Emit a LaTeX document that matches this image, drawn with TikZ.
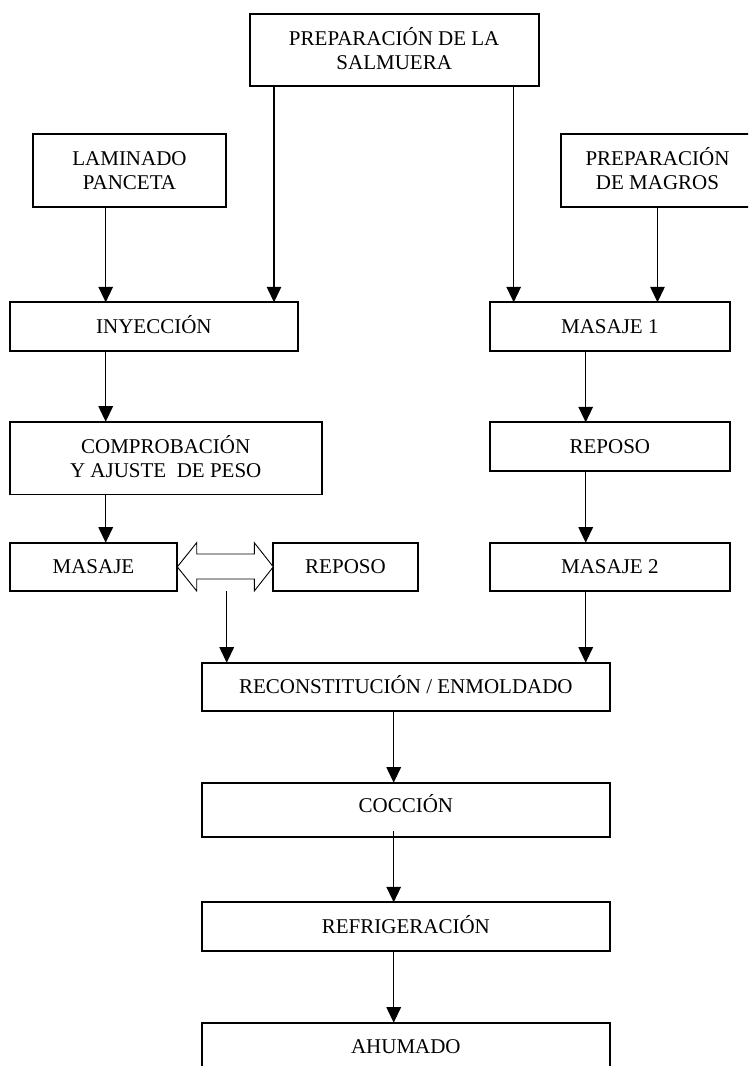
\documentclass[tikz,border=0pt]{standalone}
\usepackage{fontspec}
\setmainfont{Liberation Serif}
\usetikzlibrary{arrows.meta,calc}
\begin{document}
\begin{tikzpicture}[x=1pt,y=-1pt,
  box/.style={draw, line width=1.8pt, inner sep=0pt, outer sep=0pt, align=center,
    font=\fontsize{21}{24}\selectfont, text height=14pt, text depth=0pt},
  boxtwo/.style={box, text height=38pt, text depth=0pt},
  arr/.style={line width=1.3pt, -{Triangle[length=15.5pt,width=14.5pt]}},
  dblarr/.style={draw, line width=0.9pt, fill=white}]
\useasboundingbox (0,0) rectangle (748,1066);
\clip (0,0) rectangle (748,1066);

% boxes
\node[boxtwo, minimum width=289pt, minimum height=72pt] (salm) at (394.2,50.3) {PREPARACIÓN DE LA\\SALMUERA};
\node[boxtwo, minimum width=192.4pt, minimum height=72.4pt] (lam) at (129.5,170.5) {LAMINADO\\PANCETA};
\node[boxtwo, minimum width=192.4pt, minimum height=72.6pt] (mag) at (657.5,170.4) {PREPARACIÓN\\DE MAGROS};
\node[box, minimum width=288.3pt, minimum height=48.4pt] (iny) at (153.85,326.5) {INYECCIÓN};
\node[box, minimum width=240.3pt, minimum height=48.4pt] (masa1) at (609.85,326.5) {MASAJE 1};
\node[boxtwo, minimum width=312pt, minimum height=72.8pt] (comp) at (165.7,458.1) {COMPROBACIÓN\\Y AJUSTE\ \ DE PESO};
\node[box, minimum width=240.3pt, minimum height=48.4pt] (repr) at (609.85,446.5) {REPOSO};
\node[box, minimum width=167.6pt, minimum height=48.3pt] (masl) at (93.5,566.85) {MASAJE};
\node[box, minimum width=144.4pt, minimum height=48.3pt] (repl) at (345.5,566.85) {REPOSO};
\node[box, minimum width=240.3pt, minimum height=48.3pt] (masa2) at (609.85,566.85) {MASAJE 2};
\node[box, minimum width=408.3pt, minimum height=48pt] (recon) at (405.85,686.7) {RECONSTITUCIÓN / ENMOLDADO};
\node[box, minimum width=408.3pt, minimum height=54.6pt, text depth=10pt] (cocc) at (405.85,810) {COCCIÓN};
\node[box, minimum width=408.3pt, minimum height=48.4pt] (refr) at (405.85,926.5) {REFRIGERACIÓN};
\node[box, minimum width=408.3pt, minimum height=48.4pt] (ahum) at (405.85,1046.9) {AHUMADO};

% double arrow between MASAJE and REPOSO
\draw[dblarr] (masl.east) -- ($(masl.east)+(19.4,-24.15)$) -- ($(masl.east)+(19.4,-12.85)$)
  -- ($(repl.west)+(-19,-12.85)$) -- ($(repl.west)+(-19,-24.15)$) -- (repl.west)
  -- ($(repl.west)+(-19,24.15)$) -- ($(repl.west)+(-19,12.15)$)
  -- ($(masl.east)+(19.4,12.15)$) -- ($(masl.east)+(19.4,24.15)$) -- cycle;
\coordinate (dblout) at ($(masl.south east)!0.5!(repl.south west)+(1.4,0)$);

% connectors
\draw[arr] ([xshift=-23.8pt]lam.south) -- ([xshift=-23.8pt]lam.south |- iny.north);
\draw[arr] ([xshift=-120.2pt]salm.south) -- ([xshift=-120.2pt]salm.south |- iny.north);
\draw[arr] ([xshift=119.5pt]salm.south) -- ([xshift=119.5pt]salm.south |- masa1.north);
\draw[arr] (mag.south) -- (mag.south |- masa1.north);
\draw[arr] ([xshift=-48.15pt]iny.south) -- ([xshift=-48.15pt]iny.south |- comp.north);
\draw[arr] ([xshift=-60pt]comp.south) -- ([xshift=-60pt]comp.south |- masl.north);
\draw[arr] ([xshift=-24.15pt]masa1.south) -- ([xshift=-24.15pt]masa1.south |- repr.north);
\draw[arr] ([xshift=-24.15pt]repr.south) -- ([xshift=-24.15pt]repr.south |- masa2.north);
\draw[arr] ([xshift=-24.15pt]masa2.south) -- ([xshift=-24.15pt]masa2.south |- recon.north);
\draw[arr] (dblout) -- (dblout |- recon.north);
\draw[arr] ([xshift=-12.15pt]recon.south) -- ([xshift=-12.15pt]recon.south |- cocc.north);
\draw[arr] ([xshift=-12.15pt,yshift=6.6pt]cocc.south) -- ([xshift=-12.15pt]cocc.south |- refr.north);
\draw[arr] ([xshift=-12.15pt]refr.south) -- ([xshift=-12.15pt]refr.south |- ahum.north);
\end{tikzpicture}
\end{document}
